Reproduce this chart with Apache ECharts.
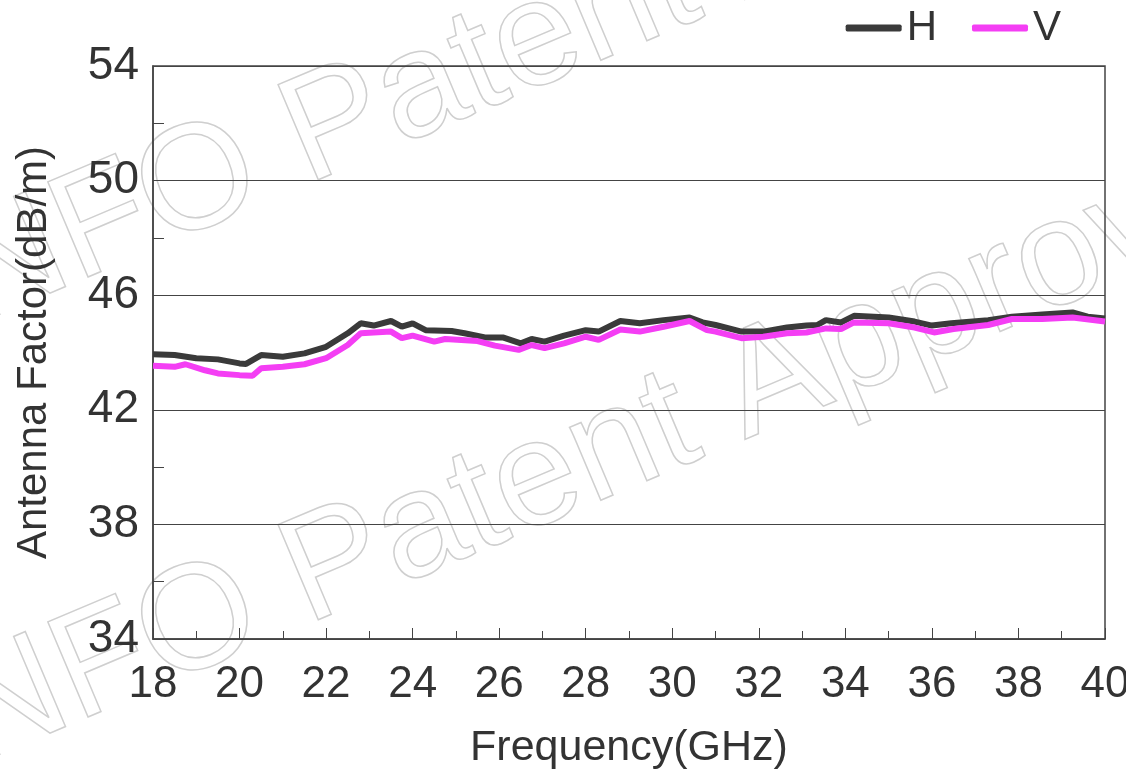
<!DOCTYPE html>
<html>
<head>
<meta charset="utf-8">
<script src="https://cdn.jsdelivr.net/npm/echarts@6/dist/echarts.min.js"></script>
<style>html,body{margin:0;padding:0;background:#fff}#c{width:1126px;height:778px}</style>
</head>
<body>
<div id="c"></div>
<script>
const seriesNames = ['H', 'V'];
const hFreq = [18, 18.5, 19, 19.5, 20, 20.15, 20.5, 21, 21.5, 22, 22.5, 22.8, 23.1, 23.5, 23.75, 24.0, 24.3, 24.9, 25.2, 25.7, 26.1, 26.5, 26.75, 27.05, 27.5, 28.0, 28.3, 28.8, 29.25, 29.8, 30.4, 30.7, 31.0, 31.6, 32.1, 32.65, 33.1, 33.35, 33.55, 33.9, 34.2, 35.0, 35.6, 36.0, 36.45, 37.3, 37.85, 38.55, 39.25, 39.6, 40];
const hVal  = [43.94, 43.91, 43.80, 43.76, 43.62, 43.60, 43.91, 43.85, 43.97, 44.20, 44.67, 45.02, 44.94, 45.10, 44.90, 45.02, 44.78, 44.75, 44.67, 44.52, 44.52, 44.32, 44.47, 44.38, 44.59, 44.78, 44.73, 45.10, 45.02, 45.13, 45.22, 45.05, 44.96, 44.73, 44.73, 44.87, 44.94, 44.96, 45.13, 45.05, 45.28, 45.22, 45.08, 44.94, 45.02, 45.13, 45.25, 45.33, 45.40, 45.25, 45.19];
const vFreq = [18, 18.5, 18.75, 19.2, 19.5, 20, 20.3, 20.5, 21, 21.5, 22, 22.5, 22.8, 23.1, 23.5, 23.75, 24.0, 24.5, 24.75, 25.5, 25.9, 26.45, 26.75, 27.05, 27.5, 28.0, 28.3, 28.8, 29.25, 29.8, 30.4, 30.8, 31.0, 31.6, 32.1, 32.65, 33.1, 33.55, 33.9, 34.2, 35.0, 35.6, 36.05, 36.5, 37.3, 37.85, 38.55, 39.25, 40];
const vVal  = [43.54, 43.50, 43.59, 43.38, 43.27, 43.21, 43.19, 43.45, 43.50, 43.59, 43.80, 44.26, 44.67, 44.70, 44.73, 44.50, 44.59, 44.38, 44.47, 44.40, 44.24, 44.09, 44.26, 44.15, 44.32, 44.55, 44.44, 44.80, 44.73, 44.90, 45.10, 44.78, 44.73, 44.50, 44.55, 44.67, 44.70, 44.84, 44.82, 45.05, 45.02, 44.87, 44.70, 44.82, 44.96, 45.17, 45.17, 45.22, 45.08];
const xTicks = {min: 18, max: 40, interval: 2};
const yTicks = {min: 34, max: 54, interval: 4};
const xName = 'Frequency(GHz)';
const yName = 'Antenna Factor(dB/m)';
const watermark = 'NFO Patent Approved';

const pairs = (xs, ys) => xs.map((x, i) => [x, ys[i]]);
const FONT = 'Liberation Sans, Arial, sans-serif';
const TXT = '#333333';

const chart = echarts.init(document.getElementById('c'));
chart.setOption({
  animation: false,
  backgroundColor: '#ffffff',
  graphic: [
    {type: 'text', x: -10, y: 355, rotation: 0.40, z: -10, silent: true,
     style: {text: watermark, font: '150px ' + FONT, fill: 'none', stroke: '#cfcfcf', lineWidth: 1.5, textVerticalAlign: 'bottom'}},
    {type: 'text', x: -10, y: 795, rotation: 0.40, z: -10, silent: true,
     style: {text: watermark, font: '150px ' + FONT, fill: 'none', stroke: '#cfcfcf', lineWidth: 1.5, textVerticalAlign: 'bottom'}}
  ],
  legend: {
    data: seriesNames,
    right: 60, top: 2,
    icon: 'roundRect',
    itemWidth: 56, itemHeight: 7, itemGap: 35,
    textStyle: {fontSize: 42, color: TXT, fontFamily: FONT}
  },
  grid: {left: 153, right: 21, top: 66, bottom: 139, show: true, borderColor: '#444', borderWidth: 1.5, backgroundColor: 'transparent', outerBoundsMode: 'none', containLabel: false},
  xAxis: {
    type: 'value', min: xTicks.min, max: xTicks.max, interval: xTicks.interval,
    name: xName, nameLocation: 'middle', nameGap: 88,
    nameTextStyle: {fontSize: 43, color: TXT, fontFamily: FONT},
    axisLine: {show: true, lineStyle: {color: '#444', width: 1.5}},
    axisTick: {show: true, inside: true, length: 11, lineStyle: {color: '#444', width: 1}},
    minorTick: {show: true, splitNumber: 2, length: 8, lineStyle: {color: '#444', width: 1}},
    axisLabel: {fontSize: 44, color: TXT, fontFamily: FONT, margin: 24},
    splitLine: {show: false}
  },
  yAxis: {
    type: 'value', min: yTicks.min, max: yTicks.max, interval: yTicks.interval,
    name: yName, nameLocation: 'middle', nameGap: 98, nameRotate: 90,
    nameTextStyle: {fontSize: 42, color: TXT, fontFamily: FONT},
    axisLine: {show: true, lineStyle: {color: '#444', width: 1.5}},
    axisTick: {show: true, inside: true, length: 11, lineStyle: {color: '#444', width: 1}},
    minorTick: {show: true, splitNumber: 2, length: 11, lineStyle: {color: '#444', width: 1}},
    axisLabel: {fontSize: 46, color: TXT, fontFamily: FONT, margin: 14},
    splitLine: {show: true, lineStyle: {color: '#444', width: 1}}
  },
  series: [
    {name: seriesNames[0], type: 'line', data: pairs(hFreq, hVal), showSymbol: false, symbol: 'none',
     lineStyle: {width: 6, color: '#3a3a3a'}, itemStyle: {color: '#3a3a3a'}, z: 3},
    {name: seriesNames[1], type: 'line', data: pairs(vFreq, vVal), showSymbol: false, symbol: 'none',
     lineStyle: {width: 6, color: '#f43ef4'}, itemStyle: {color: '#f43ef4'}, z: 4}
  ]
});
</script>
</body>
</html>
